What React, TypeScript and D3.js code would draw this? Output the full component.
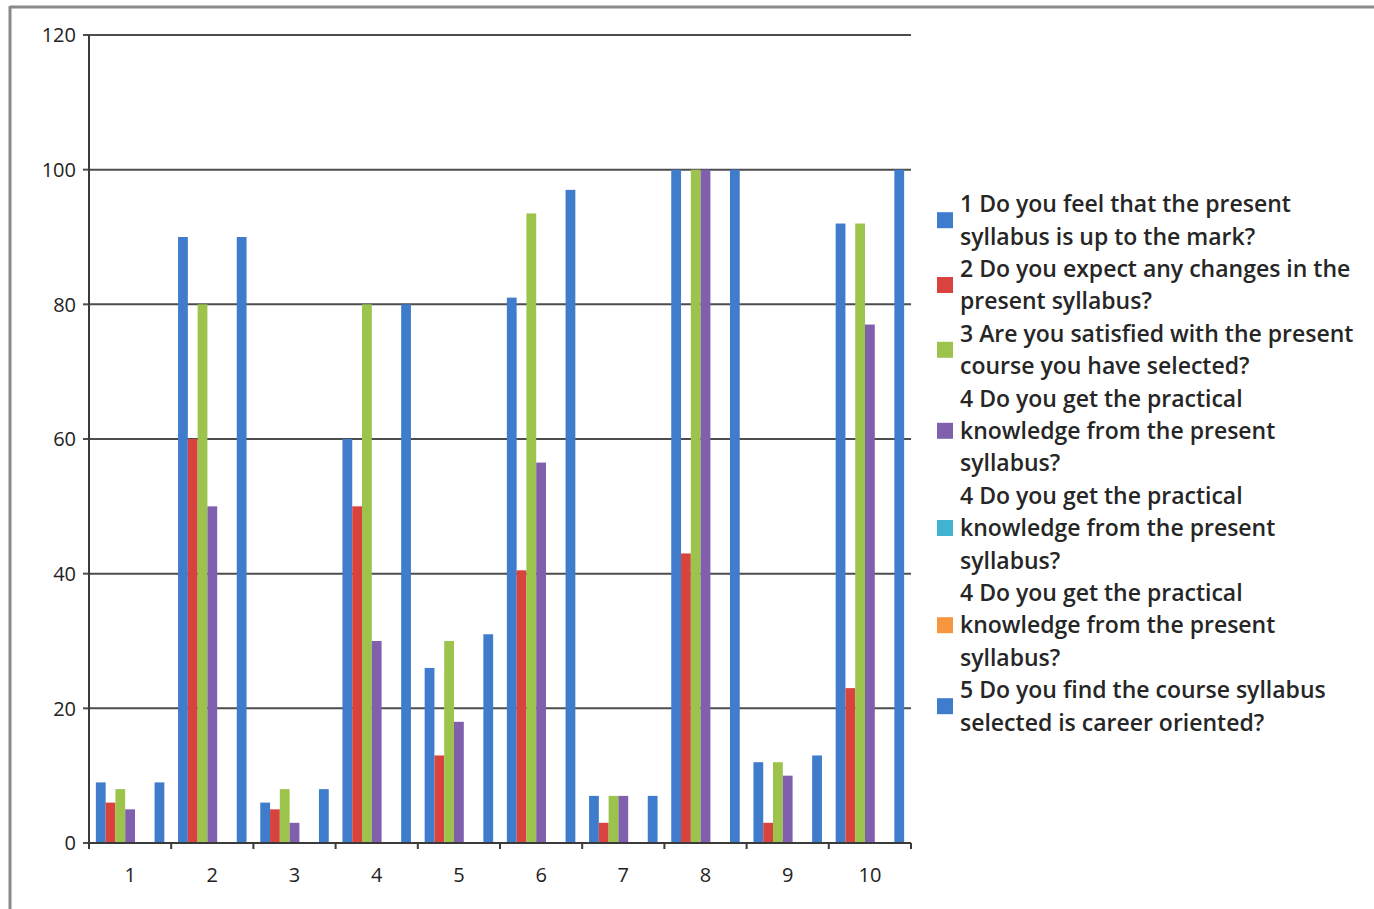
import React from "react";
import * as d3 from "d3";

const categories = ["1", "2", "3", "4", "5", "6", "7", "8", "9", "10"];
const seriesNames = [
  "1 Do you feel that the present syllabus is up to the mark?",
  "2 Do you expect any changes in the present syllabus?",
  "3 Are you satisfied with the present course you have selected?",
  "4 Do you get the practical knowledge from the present syllabus?",
  "4 Do you get the practical knowledge from the present syllabus?",
  "4 Do you get the practical knowledge from the present syllabus?",
  "5 Do you find the course syllabus selected is career oriented?",
];
const legendLines = [
  ["1 Do you feel that the present", "syllabus is up to the mark?"],
  ["2 Do you expect any changes in the", "present syllabus?"],
  ["3 Are you satisfied with the present", "course you have selected?"],
  ["4 Do you get the practical", "knowledge from the present", "syllabus?"],
  ["4 Do you get the practical", "knowledge from the present", "syllabus?"],
  ["4 Do you get the practical", "knowledge from the present", "syllabus?"],
  ["5 Do you find the course syllabus", "selected is career oriented?"],
];
const s1 = [9, 90, 6, 60, 26, 81, 7, 100, 12, 92];
const s2 = [6, 60, 5, 50, 13, 40.5, 3, 43, 3, 23];
const s3 = [8, 80, 8, 80, 30, 93.5, 7, 100, 12, 92];
const s4 = [5, 50, 3, 30, 18, 56.5, 7, 100, 10, 77];
const s5 = [0, 0, 0, 0, 0, 0, 0, 0, 0, 0];
const s6 = [0, 0, 0, 0, 0, 0, 0, 0, 0, 0];
const s7 = [9, 90, 8, 80, 31, 97, 7, 100, 13, 100];
const seriesValues = [s1, s2, s3, s4, s5, s6, s7];
const colors = ["#3f7dcc", "#d8443d", "#9cc34c", "#8060ad", "#3fb3cf", "#f7963f", "#3f7dcc"];
const yTicks = [0, 20, 40, 60, 80, 100, 120];

export default function App() {
  const W = 1374, H = 909;
  const left = 89, right = 911, top = 35, bottom = 843;
  const x0 = d3.scaleBand<string>().domain(categories).range([left, right]).padding(0);
  const x1 = d3
    .scaleBand<number>()
    .domain(d3.range(seriesValues.length))
    .range([0, x0.bandwidth()])
    .paddingInner(0)
    .paddingOuter(0.7);
  const y = d3.scaleLinear().domain([0, 120]).range([bottom, top]);
  const font = "'Open Sans', 'DejaVu Sans', sans-serif";

  const lineH = 32.4;
  const legendTop = 204;
  let lineIdx = 0;
  const legendEntries = legendLines.map((lines, i) => {
    const start = lineIdx;
    lineIdx += lines.length;
    return { lines, start, i, name: seriesNames[i] };
  });

  return (
    <svg
      width={W}
      height={H}
      style={{ position: "absolute", left: 0, top: 0, background: "#fff" }}
      fontFamily={font}
    >
      <rect x={0} y={0} width={W} height={H} fill="#fff" />
      <line x1={10} y1={7} x2={W} y2={7} stroke="#8a8a8a" strokeWidth={3} />
      <line x1={10} y1={6} x2={10} y2={H} stroke="#8a8a8a" strokeWidth={3} />

      {yTicks.map((t) => (
        <g key={t}>
          <line x1={left} x2={right} y1={y(t)} y2={y(t)} stroke="#4d4d4d" strokeWidth={2} />
          <line x1={left - 6} x2={left} y1={y(t)} y2={y(t)} stroke="#4d4d4d" strokeWidth={2} />
          <text x={76} y={y(t)} dy="0.36em" textAnchor="end" fontSize={20} fill="#222">
            {t}
          </text>
        </g>
      ))}

      {categories.map((c, ci) => (
        <g key={c} transform={`translate(${x0(c)},0)`}>
          {seriesValues.map((vals, si) => (
            <rect
              key={si}
              x={x1(si)}
              y={y(vals[ci])}
              width={x1.bandwidth()}
              height={bottom - y(vals[ci])}
              fill={colors[si]}
            />
          ))}
        </g>
      ))}

      <line x1={left} x2={left} y1={top} y2={bottom + 6} stroke="#3a3a3a" strokeWidth={2} />
      <line x1={left} x2={right} y1={bottom} y2={bottom} stroke="#3a3a3a" strokeWidth={2} />
      {categories.map((c) => (
        <line
          key={"t" + c}
          x1={(x0(c) as number) + x0.bandwidth()}
          x2={(x0(c) as number) + x0.bandwidth()}
          y1={bottom}
          y2={bottom + 6}
          stroke="#3a3a3a"
          strokeWidth={2}
        />
      ))}
      {categories.map((c) => (
        <text
          key={"l" + c}
          x={(x0(c) as number) + x0.bandwidth() / 2}
          y={882}
          textAnchor="middle"
          fontSize={20}
          fill="#222"
        >
          {c}
        </text>
      ))}

      {legendEntries.map(({ lines, start, i }) => {
        const mid = legendTop + (start + (lines.length - 1) / 2) * lineH;
        return (
          <g key={i}>
            <rect x={937} y={mid - 8} width={16} height={16} fill={colors[i]} />
            {lines.map((ln, k) => (
              <text
                key={k}
                x={960}
                y={legendTop + (start + k) * lineH}
                dy="0.36em"
                fontSize={23}
                fontWeight={600}
                fill="#262626"
              >
                {ln}
              </text>
            ))}
          </g>
        );
      })}
    </svg>
  );
}
